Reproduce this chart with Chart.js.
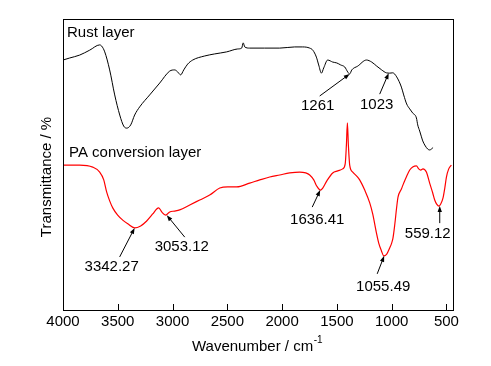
<!DOCTYPE html>
<html>
<head>
<meta charset="utf-8">
<script src="https://cdn.jsdelivr.net/npm/chart.js@4.4.1/dist/chart.umd.min.js"></script>
<style>
    body { margin: 0; background: #fff; }
    canvas { display: block; }
</style>
</head>
<body>
<canvas id="myChart" width="491" height="366"></canvas>
<script>
// Values (wavenumber in cm-1, transmittance in arbitrary %)
const xTicks = [4000, 3500, 3000, 2500, 2000, 1500, 1000, 500];

const rustWn = [4000, 3939, 3848, 3756, 3665, 3647, 3619, 3574, 3528, 3482, 3446, 3418, 3382, 3346, 3300, 3209, 3117, 3026, 2980, 2953, 2926, 2898, 2862, 2816, 2706, 2615, 2506, 2406, 2369, 2355, 2341, 2296, 2159, 2022, 1885, 1812, 1748, 1720, 1687, 1666, 1641, 1620, 1584, 1538, 1501, 1465, 1428, 1401, 1383, 1364, 1310, 1230, 1182, 1136, 1091, 1048, 1018, 990, 954, 911, 890, 863, 835, 808, 774, 762, 744, 728, 716, 698, 671, 653, 622];
const rustT = [85.9, 86.6, 87.6, 89.3, 91.1, 90.7, 88.7, 82.5, 73.9, 67.0, 63.2, 62.5, 63.6, 67.0, 69.8, 73.9, 78.0, 82.1, 82.5, 81.8, 80.8, 82.5, 84.5, 85.9, 87.3, 88.0, 88.7, 89.7, 90.0, 91.8, 90.4, 90.0, 90.0, 90.0, 90.4, 90.4, 90.0, 89.3, 86.9, 84.2, 81.4, 83.2, 85.9, 85.2, 84.9, 84.2, 83.5, 81.8, 81.1, 82.5, 83.8, 85.9, 85.2, 83.8, 82.5, 81.5, 81.4, 81.5, 80.1, 76.6, 73.9, 70.8, 69.1, 67.7, 66.0, 63.6, 61.5, 59.5, 58.1, 56.7, 55.3, 55.0, 55.8];

const paWn = [4000, 3848, 3729, 3665, 3628, 3601, 3574, 3546, 3501, 3455, 3409, 3346, 3291, 3236, 3181, 3145, 3126, 3099, 3062, 3026, 2980, 2935, 2843, 2752, 2661, 2569, 2496, 2414, 2296, 2204, 2113, 2022, 1931, 1840, 1784, 1748, 1711, 1684, 1650, 1629, 1593, 1538, 1492, 1447, 1424, 1413, 1404, 1395, 1383, 1355, 1319, 1292, 1246, 1200, 1173, 1139, 1118, 1093, 1072, 1045, 1018, 1000, 988, 972, 954, 942, 911, 890, 863, 835, 808, 774, 753, 735, 714, 683, 653, 625, 607, 589, 568, 552, 531, 515, 500, 479, 455];
const paT = [49.8, 49.8, 49.1, 47.4, 44.7, 40.5, 37.5, 35.1, 32.6, 30.9, 29.6, 28.2, 28.9, 30.6, 33.0, 34.7, 35.1, 33.7, 32.6, 33.7, 34.0, 34.4, 36.1, 37.8, 39.5, 41.9, 42.3, 42.3, 43.6, 44.7, 45.7, 46.4, 47.1, 47.4, 47.1, 46.4, 44.7, 42.6, 41.2, 41.9, 44.3, 47.1, 47.8, 48.5, 50.2, 56.7, 64.3, 56.7, 49.8, 47.4, 46.0, 44.7, 41.2, 36.8, 33.0, 26.5, 23.0, 20.3, 18.6, 19.2, 21.3, 23.0, 24.7, 29.2, 35.4, 38.8, 41.6, 43.6, 46.0, 48.1, 49.1, 49.5, 48.5, 48.1, 48.5, 47.4, 43.6, 40.2, 37.8, 36.4, 35.7, 36.4, 38.5, 41.9, 45.7, 48.5, 49.8];

const peakLabels = ['1261', '1023', '3342.27', '3053.12', '1636.41', '1055.49', '559.12'];
const peakWn = [1383, 1027, 3346, 3053, 1652, 1068, 561];
const peakT = [81.1, 81.4, 28.2, 32.6, 41.2, 18.6, 35.7];

const FONT = "'Liberation Sans', Arial, sans-serif";

const toPoints = (xs, ys) => xs.map((x, i) => ({ x: x, y: ys[i] }));

// pixel offsets from arrow tip: tail and label centre
const arrowTail = [[-30, 22], [-9, 21], [-15, 29], [18, 22], [-8, 17], [-7, 18], [0, 17]];
const labelPos = [[-32, 32], [-12, 32], [-23, 39], [15, 32], [-3, 30], [-1, 31], [-12, 28]];

const drawArrow = (ctx, x1, y1, x2, y2) => {
    // from tail (x1,y1) to tip (x2,y2)
    const ang = Math.atan2(y2 - y1, x2 - x1);
    const head = 6, half = 2.2;
    ctx.beginPath();
    ctx.moveTo(x1, y1);
    ctx.lineTo(x2 - Math.cos(ang) * head * 0.8, y2 - Math.sin(ang) * head * 0.8);
    ctx.stroke();
    ctx.beginPath();
    ctx.moveTo(x2, y2);
    ctx.lineTo(x2 - Math.cos(ang) * head - Math.sin(ang) * half, y2 - Math.sin(ang) * head + Math.cos(ang) * half);
    ctx.lineTo(x2 - Math.cos(ang) * head + Math.sin(ang) * half, y2 - Math.sin(ang) * head - Math.cos(ang) * half);
    ctx.closePath();
    ctx.fill();
};

const decorPlugin = {
    id: 'decor',
    afterDraw(chart) {
        const ctx = chart.ctx;
        const area = chart.chartArea;
        const xs = chart.scales.x;
        const ys = chart.scales.y;
        ctx.save();

        // frame
        ctx.strokeStyle = '#000';
        ctx.lineWidth = 1;
        ctx.strokeRect(Math.round(area.left) + 0.5, Math.round(area.top) + 0.5,
            Math.round(area.right - area.left), Math.round(area.bottom - area.top));

        // ticks pointing in
        ctx.beginPath();
        xTicks.forEach(t => {
            const px = Math.round(xs.getPixelForValue(t)) + 0.5;
            ctx.moveTo(px, area.bottom);
            ctx.lineTo(px, area.bottom - 6);
        });
        ctx.stroke();

        ctx.fillStyle = '#000';
        ctx.font = '15px ' + FONT;

        // series names
        ctx.textAlign = 'left';
        ctx.textBaseline = 'middle';
        ctx.fillText('Rust layer', 67, 33);
        ctx.fillText('PA conversion layer', 69, 153);

        // peak annotations
        ctx.textAlign = 'center';
        ctx.lineWidth = 1;
        peakLabels.forEach((lab, i) => {
            const tx = xs.getPixelForValue(peakWn[i]);
            const ty = ys.getPixelForValue(peakT[i]);
            drawArrow(ctx, tx + arrowTail[i][0], ty + arrowTail[i][1], tx, ty);
            ctx.fillText(lab, tx + labelPos[i][0], ty + labelPos[i][1]);
        });

        // axis titles
        const main = 'Wavenumber / cm';
        const w1 = ctx.measureText(main).width;
        ctx.font = '10px ' + FONT;
        const w2 = ctx.measureText('-1').width;
        const startX = 257 - (w1 + w2) / 2;
        ctx.font = '15px ' + FONT;
        ctx.textAlign = 'left';
        ctx.fillText(main, startX, 347);
        ctx.font = '10px ' + FONT;
        ctx.fillText('-1', startX + w1 + 0.5, 340);

        ctx.font = '15px ' + FONT;
        ctx.translate(47, 177);
        ctx.rotate(-Math.PI / 2);
        ctx.textAlign = 'center';
        ctx.fillText('Transmittance / %', 0, 0);
        ctx.restore();
    }
};

const ctx = document.getElementById('myChart').getContext('2d');

const myChart = new Chart(ctx, {
    type: 'line',
    data: {
        datasets: [{
            label: 'Rust layer',
            data: toPoints(rustWn, rustT),
            borderColor: '#000',
            borderWidth: 1,
            pointRadius: 0,
            cubicInterpolationMode: 'monotone',
            fill: false,
        }, {
            label: 'PA conversion layer',
            data: toPoints(paWn, paT),
            borderColor: '#ff0000',
            borderWidth: 1.2,
            pointRadius: 0,
            cubicInterpolationMode: 'monotone',
            fill: false,
        }],
    },
    options: {
        responsive: false,
        animation: false,
        layout: { padding: { left: 63, top: 19, right: 38, bottom: 0 } },
        plugins: {
            legend: { display: false },
            tooltip: { enabled: false },
        },
        scales: {
            x: {
                type: 'linear',
                reverse: true,
                min: 440,
                max: 4000,
                afterBuildTicks: (scale) => {
                    scale.ticks = xTicks.map(v => ({ value: v }));
                },
                afterFit: (scale) => { scale.height = 56; },
                grid: { display: false },
                border: { display: false },
                ticks: {
                    color: '#000',
                    font: { family: FONT, size: 15 },
                    padding: -5,
                    maxRotation: 0,
                    autoSkip: false,
                    callback: (v) => String(v),
                },
            },
            y: {
                display: false,
                min: 0,
                max: 100,
            },
        },
    },
    plugins: [decorPlugin],
});
</script>
</body>
</html>
